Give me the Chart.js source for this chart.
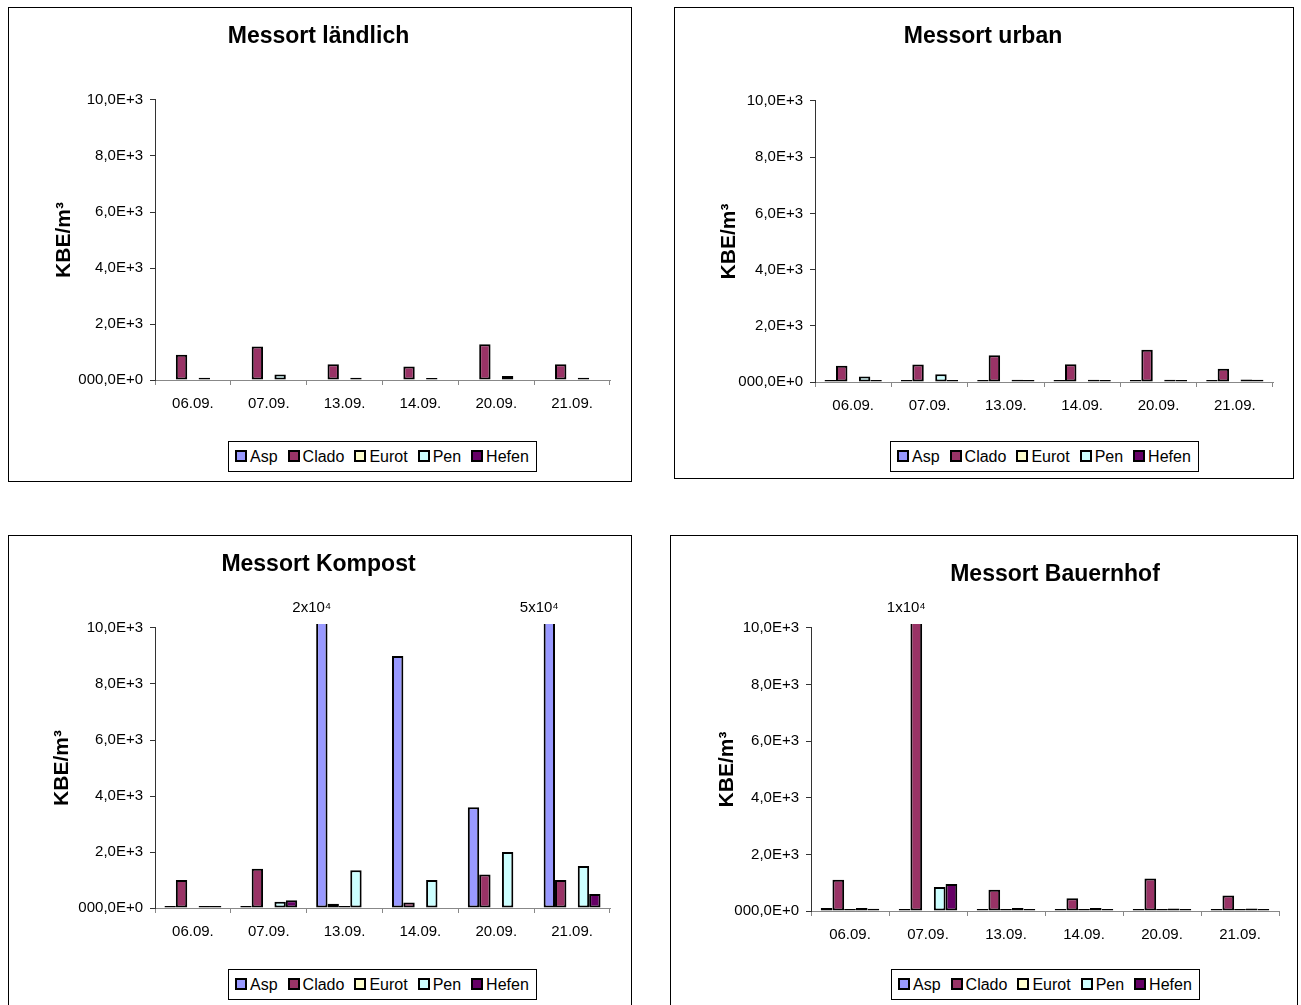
<!DOCTYPE html>
<html>
<head>
<meta charset="utf-8">
<script src="https://cdn.jsdelivr.net/npm/chart.js@4.4.1/dist/chart.umd.min.js"></script>
<style>
    body { margin: 0; background: #fff; width: 1301px; height: 1005px; overflow: hidden; position: relative; font-family: "Liberation Sans", Arial, sans-serif; }
    .box { position: absolute; border: 1px solid #000; background: #fff; }
    .box canvas { position: absolute; left: 0; top: 0; }
    .legend { position: absolute; border: 1px solid #000; background: #fff; padding: 5px 7px 5px 6px; font-size: 16px; line-height: 19px; white-space: nowrap; color: #000; }
    .legend .item { margin-right: 10px; }
    .legend .item:last-child { margin-right: 0; }
    .legend .sw { display: inline-block; width: 8px; height: 8px; border: 2px solid #000; margin-right: 3px; vertical-align: 0px; }
</style>
</head>
<body>
<div class="box" id="box1" style="left:8px; top:7px; width:622px; height:473px;"><canvas id="c1" width="622" height="473"></canvas><div class="legend" id="l1"></div></div>
<div class="box" id="box2" style="left:674px; top:7px; width:618px; height:470px;"><canvas id="c2" width="618" height="470"></canvas><div class="legend" id="l2"></div></div>
<div class="box" id="box3" style="left:8px; top:535px; width:622px; height:472px;"><canvas id="c3" width="622" height="472"></canvas><div class="legend" id="l3"></div></div>
<div class="box" id="box4" style="left:670px; top:535px; width:626px; height:472px;"><canvas id="c4" width="626" height="472"></canvas><div class="legend" id="l4"></div></div>
<script>
const categories = ["06.09.", "07.09.", "13.09.", "14.09.", "20.09.", "21.09."];
const seriesNames = ["Asp", "Clado", "Eurot", "Pen", "Hefen"];
const seriesColors = ["#9999FF", "#993366", "#FFFFCC", "#CCFFFF", "#660066"];
const yTickLabels = ["000,0E+0", "2,0E+3", "4,0E+3", "6,0E+3", "8,0E+3", "10,0E+3"];

// Messort ländlich
const laendlichAsp = [0, 0, 0, 0, 0, 0];
const laendlichClado = [900, 1200, 560, 480, 1280, 560];
const laendlichEurot = [0, 0, 0, 0, 0, 0];
const laendlichPen = [80, 200, 80, 70, 140, 80];
const laendlichHefen = [0, 0, 0, 0, 0, 0];

// Messort urban
const urbanAsp = [70, 70, 70, 70, 70, 70];
const urbanClado = [580, 620, 950, 630, 1150, 470];
const urbanEurot = [0, 0, 0, 0, 0, 0];
const urbanPen = [200, 280, 80, 80, 80, 90];
const urbanHefen = [70, 70, 70, 70, 70, 80];

// Messort Kompost (13.09. and 21.09. Asp go off scale)
const kompostAsp = [70, 70, 20000, 9000, 3600, 50000];
const kompostClado = [1000, 1400, 150, 200, 1200, 1000];
const kompostEurot = [0, 0, 70, 0, 0, 0];
const kompostPen = [70, 220, 1350, 1000, 2000, 1500];
const kompostHefen = [70, 280, 0, 0, 0, 500];
const kompostNotes = ["", "", "2x10⁴", "", "", "5x10⁴"]; // on Asp bars

// Messort Bauernhof (07.09. Clado goes off scale)
const bauernhofAsp = [110, 70, 70, 70, 70, 70];
const bauernhofClado = [1100, 12000, 750, 450, 1150, 550];
const bauernhofEurot = [70, 0, 70, 70, 70, 70];
const bauernhofPen = [110, 850, 110, 110, 90, 90];
const bauernhofHefen = [80, 950, 70, 70, 70, 70];
const bauernhofNotes = ["", "1x10⁴", "", "", "", ""]; // on Clado bars

Chart.defaults.font.family = '"Liberation Sans", Arial, sans-serif';
Chart.defaults.color = "#000";

// legend as html box under the plot area
const htmlLegend = {
    id: "htmlLegend",
    afterUpdate(chart, args, opts) {
        const el = document.getElementById(opts.containerID);
        el.innerHTML = "";
        chart.data.datasets.forEach(ds => {
            const item = document.createElement("span");
            item.className = "item";
            const sw = document.createElement("span");
            sw.className = "sw";
            sw.style.background = ds.backgroundColor;
            item.appendChild(sw);
            item.appendChild(document.createTextNode(ds.label));
            el.appendChild(item);
        });
        const a = chart.chartArea;
        el.style.left = Math.round((a.left + a.right) / 2 - el.offsetWidth / 2) + "px";
        el.style.top = Math.round(a.bottom + opts.gap) + "px";
    }
};

// labels over bars that leave the scale
const bigValueNotes = {
    id: "bigValueNotes",
    afterDatasetsDraw(chart, args, opts) {
        if (!opts.notes) return;
        const ctx = chart.ctx;
        const meta = chart.getDatasetMeta(opts.dataset);
        ctx.save();
        ctx.font = '15px "Liberation Sans", Arial, sans-serif';
        ctx.fillStyle = "#000";
        ctx.textAlign = "center";
        ctx.textBaseline = "middle";
        opts.notes.forEach((t, i) => {
            if (!t) return;
            ctx.fillText(t, meta.data[i].x - 10, chart.chartArea.top - 20);
        });
        ctx.restore();
    }
};

const titleShift = {
    id: "titleShift",
    afterLayout(chart, args, opts) {
        if (opts.dx && chart.titleBlock) {
            chart.titleBlock.left += opts.dx;
            chart.titleBlock.right += opts.dx;
        }
    }
};

const panels = [
    { canvas: "c1", legend: "l1", title: "Messort ländlich",
      series: [laendlichAsp, laendlichClado, laendlichEurot, laendlichPen, laendlichHefen],
      notes: null, noteSeries: 0,
      area: [146, 92, 601, 372], titleY: 29, titleDx: 9, yTitleX: 55, legendGap: 61 },
    { canvas: "c2", legend: "l2", title: "Messort urban",
      series: [urbanAsp, urbanClado, urbanEurot, urbanPen, urbanHefen],
      notes: null, noteSeries: 0,
      area: [140, 93, 598, 374], titleY: 29, titleDx: 9, yTitleX: 54, legendGap: 59 },
    { canvas: "c3", legend: "l3", title: "Messort Kompost",
      series: [kompostAsp, kompostClado, kompostEurot, kompostPen, kompostHefen],
      notes: kompostNotes, noteSeries: 0,
      area: [146, 92, 601, 372], titleY: 29, titleDx: 9, yTitleX: 53, legendGap: 61 },
    { canvas: "c4", legend: "l4", title: "Messort Bauernhof",
      series: [bauernhofAsp, bauernhofClado, bauernhofEurot, bauernhofPen, bauernhofHefen],
      notes: bauernhofNotes, noteSeries: 1,
      area: [140, 92, 608, 375], titleY: 39, titleDx: 80, yTitleX: 56, legendGap: 58 }
];

function makeChart(p) {
    const cv = document.getElementById(p.canvas);
    const w = cv.width, h = cv.height;
    const titleTop = p.titleY - 13.8;
    new Chart(cv, {
        type: "bar",
        data: {
            labels: categories,
            datasets: seriesNames.map((name, i) => ({
                label: name,
                data: p.series[i],
                backgroundColor: seriesColors[i],
                borderColor: "#000",
                borderWidth: 2,
                borderSkipped: false,
                categoryPercentage: 0.75,
                barPercentage: 1,
                clip: { left: false, top: 4, right: false, bottom: 1 }
            }))
        },
        options: {
            responsive: false,
            animation: false,
            layout: { padding: { left: 0, right: w - p.area[2], top: 0, bottom: 0 } },
            scales: {
                x: {
                    ticks: { font: { size: 15 }, padding: 10, maxRotation: 0, autoSkip: false, color: "#000" },
                    grid: { drawOnChartArea: false, tickLength: 5, color: "#888", offset: true },
                    border: { color: "#888" },
                    afterFit: s => { s.height = h - p.area[3]; }
                },
                y: {
                    min: 0,
                    max: 10000,
                    ticks: { stepSize: 2000, padding: 7, font: { size: 15 }, color: "#000",
                             callback: v => yTickLabels[Math.round(v / 2000)] },
                    grid: { drawOnChartArea: false, tickLength: 5, color: "#333" },
                    border: { color: "#333" },
                    title: { display: true, text: "KBE/m³", color: "#000",
                             font: { size: 21, weight: "bold" },
                             padding: { top: p.yTitleX - 12.6, bottom: 0 } },
                    afterFit: s => { s.width = p.area[0]; }
                }
            },
            plugins: {
                legend: { display: false },
                tooltip: { enabled: false },
                title: {
                    display: true,
                    text: p.title,
                    color: "#000",
                    font: { size: 23, weight: "bold" },
                    padding: { top: titleTop, bottom: p.area[1] - titleTop - 27.6 }
                },
                htmlLegend: { containerID: p.legend, gap: p.legendGap },
                bigValueNotes: { notes: p.notes, dataset: p.noteSeries },
                titleShift: { dx: p.titleDx }
            }
        },
        plugins: [htmlLegend, bigValueNotes, titleShift]
    });
}

panels.forEach(makeChart);
</script>
</body>
</html>
